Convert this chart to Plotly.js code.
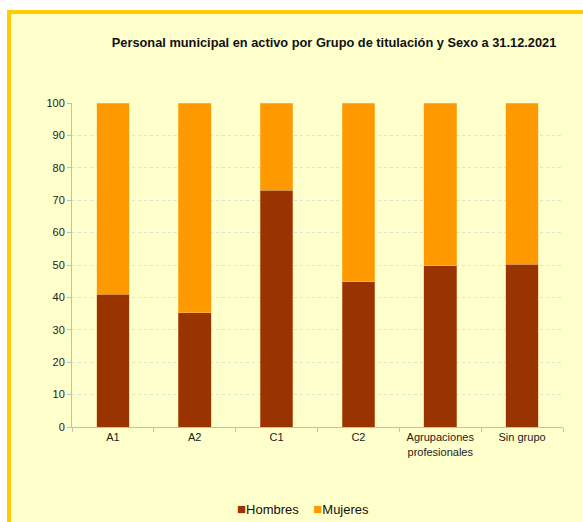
<!DOCTYPE html>
<html>
<head>
<meta charset="utf-8">
<script src="https://cdn.plot.ly/plotly-3.0.1.min.js"></script>
<style>
  html, body { margin: 0; padding: 0; background: #ffffff; overflow: hidden; }
  #frame { position: absolute; left: 7px; top: 10px; width: 600px; height: 540px;
           background: #FFFFCC; border: 4px solid #FFCC00; box-sizing: border-box; }
  #chart { position: absolute; left: 0; top: 0; width: 583px; height: 522px; }
</style>
</head>
<body>
<div id="frame"></div>
<div id="chart"></div>
<script>
const categories = ["A1", "A2", "C1", "C2", "Agrupaciones<br>profesionales", "Sin grupo"];
const hombres = [41.0, 35.2, 73.1, 44.8, 49.8, 50.3];
const mujeres = [59.0, 64.8, 26.9, 55.2, 50.2, 49.7];
const yTicks = [0, 10, 20, 30, 40, 50, 60, 70, 80, 90, 100];
const seriesNames = ["Hombres", "Mujeres"];
const seriesColors = ["#993300", "#FF9900"];

const traces = [
  { type: "bar", name: seriesNames[0], x: categories, y: hombres,
    marker: { color: seriesColors[0], line: { color: "rgba(230,170,110,0.7)", width: 0.6 } },
    hoverinfo: "skip" },
  { type: "bar", name: seriesNames[1], x: categories, y: mujeres,
    marker: { color: seriesColors[1], line: { color: "rgba(255,210,120,0.7)", width: 0.6 } },
    hoverinfo: "skip" }
];

const legendText = seriesNames.map((n, i) =>
  `<span style="color:${seriesColors[i]};font-size:15px">■</span>${n}`).join("    ");

const layout = {
  width: 583, height: 522,
  barmode: "stack",
  bargap: 0.6,
  paper_bgcolor: "rgba(0,0,0,0)",
  plot_bgcolor: "rgba(0,0,0,0)",
  margin: { l: 72, r: 20, t: 103, b: 95, autoexpand: false },
  font: { family: "Liberation Sans, Arial, sans-serif", size: 11, color: "#222" },
  title: {
    text: "<b>Personal municipal en activo por Grupo de titulación y Sexo a 31.12.2021</b>",
    font: { size: 12.8, color: "#111", family: "Liberation Sans, Arial, sans-serif" },
    xref: "container", x: 0.573, xanchor: "center",
    yref: "container", y: 0.918, yanchor: "middle"
  },
  xaxis: {
    type: "category",
    tickson: "boundaries",
    ticks: "outside", ticklen: 4, tickcolor: "#bfbfbf",
    showline: true, linecolor: "#bfbfbf", linewidth: 1,
    showgrid: false,
    tickfont: { size: 11, color: "#222" }
  },
  yaxis: {
    range: [0, 100],
    tickvals: yTicks,
    ticktext: yTicks.map(String),
    ticks: "outside", ticklen: 4, tickcolor: "#bfbfbf",
    showline: true, linecolor: "#bfbfbf", linewidth: 1,
    showgrid: true, gridcolor: "#e2e2cc", griddash: "dot", gridwidth: 1,
    zeroline: false,
    tickfont: { size: 11, color: "#222" }
  },
  showlegend: false,
  annotations: [{
    xref: "paper", yref: "paper",
    x: 0.47, xanchor: "center",
    y: -0.25, yanchor: "middle",
    showarrow: false,
    text: legendText,
    font: { size: 13, color: "#111", family: "Liberation Sans, Arial, sans-serif" }
  }]
};

Plotly.newPlot("chart", traces, layout, { displayModeBar: false, staticPlot: true });
</script>
</body>
</html>
